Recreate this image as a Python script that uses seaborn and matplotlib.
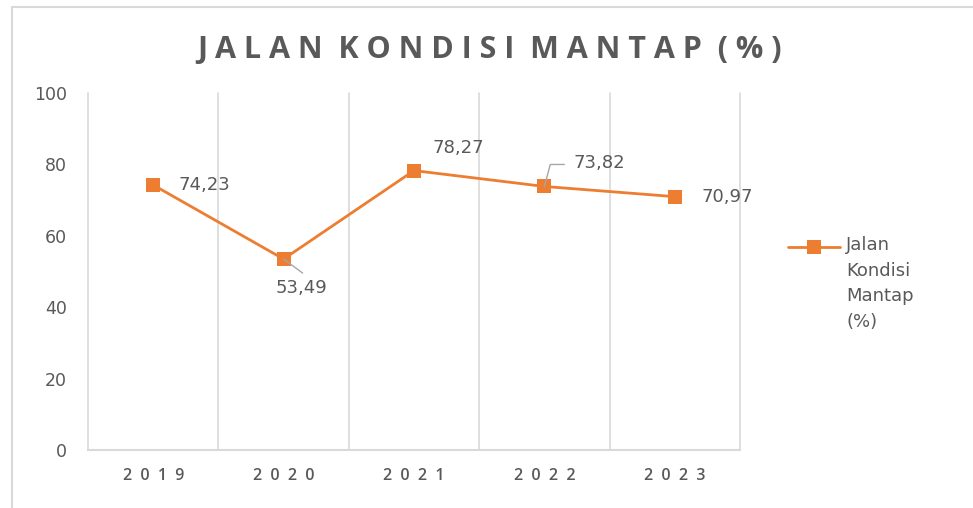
import matplotlib
matplotlib.use("Agg")
import matplotlib.pyplot as plt
from matplotlib.lines import Line2D
from matplotlib.patches import Rectangle
import seaborn as sns
import pandas as pd

years = ["2019", "2020", "2021", "2022", "2023"]
mantap = [74.23, 53.49, 78.27, 73.82, 70.97]
y_ticks = [0, 20, 40, 60, 80, 100]
title = "JALAN KONDISI MANTAP (%)"
legend_label = "Jalan\nKondisi\nMantap\n(%)"

ORANGE = "#ED7D31"
GREY_TXT = "#595959"
GRID = "#D9D9D9"

sns.set_style("white")
plt.rcParams["font.family"] = ["DejaVu Sans"]

W, H = 973, 508
fig = plt.figure(figsize=(W / 100, H / 100), dpi=100)
ax = fig.add_axes([88 / W, 1 - 450 / H, (740 - 88) / W, (450 - 93) / H])

df = pd.DataFrame({"pos": range(len(years)), "value": mantap})
sns.lineplot(data=df, x="pos", y="value", ax=ax, color=ORANGE, linewidth=2.0,
             marker="s", markersize=9.5, markeredgewidth=0, legend=False)

ax.set_xlim(-0.5, len(years) - 0.5)
ax.set_ylim(0, 100)
ax.set_yticks(y_ticks)
ax.set_yticklabels([str(t) for t in y_ticks], color=GREY_TXT, fontsize=12.5)
ax.set_xticks(range(len(years)))
ax.set_xticklabels(["  ".join(y) for y in years], color=GREY_TXT, fontsize=11.5,
                   fontweight="semibold", family=["Open Sans", "DejaVu Sans"])
ax.tick_params(axis="y", length=0, pad=15)
ax.tick_params(axis="x", length=0, pad=13)
ax.set_xlabel("")
ax.set_ylabel("")

# vertical separators between categories
for b in [i - 0.5 for i in range(len(years) + 1)]:
    ax.axvline(b, color=GRID, linewidth=1.2, zorder=0, clip_on=False)
for s in ["top", "right", "left"]:
    ax.spines[s].set_visible(False)
ax.spines["bottom"].set_color(GRID)
ax.spines["bottom"].set_linewidth(1.5)

# value labels (offsets in points)
px = 0.72
offsets = [(25, 0, "left"), (18, -29, "center"), (18, 23, "left"),
           (29, 23, "left"), (27, 0, "left")]
for i, (v, (dx, dy, ha)) in enumerate(zip(mantap, offsets)):
    ax.annotate(f"{v:.2f}".replace(".", ","), xy=(i, v),
                xytext=(dx * px, dy * px), textcoords="offset points",
                ha=ha, va="center", fontsize=13, color=GREY_TXT)

# leader lines
ax.annotate("", xy=(1, mantap[1]), xytext=(19 * px, -14 * px),
            textcoords="offset points",
            arrowprops=dict(arrowstyle="-", color="#A6A6A6", lw=1.0,
                            shrinkA=0, shrinkB=0))
ax.annotate("", xy=(3, mantap[3]), xytext=(20 * px, 22 * px),
            textcoords="offset points",
            arrowprops=dict(arrowstyle="-", color="#A6A6A6", lw=1.0,
                            shrinkA=0, shrinkB=0,
                            connectionstyle="angle,angleA=0,angleB=75,rad=0"))

# title, letter-spaced
spaced_title = "  ".join(" ".join(word) for word in title.split())
fig.text(490 / W, 1 - 50 / H, spaced_title, ha="center", va="center",
         fontsize=22, fontweight="bold", color=GREY_TXT,
         family=["Open Sans", "DejaVu Sans"])

# legend
ly = 1 - 247 / H
fig.add_artist(Line2D([788 / W, 840 / W], [ly, ly], color=ORANGE, linewidth=2.0,
                      transform=fig.transFigure))
fig.add_artist(Line2D([814 / W], [ly], color=ORANGE, marker="s", markersize=9.5,
                      markeredgewidth=0, linestyle="none",
                      transform=fig.transFigure))
fig.text(846 / W, 1 - 236 / H, legend_label, ha="left", va="top",
         fontsize=13, color=GREY_TXT, linespacing=1.55)

# chart frame
fig.add_artist(Rectangle((12 / W, -0.1), 1.2, 1 - 7 / H + 0.1, fill=False,
                         edgecolor=GRID, linewidth=1.5, transform=fig.transFigure))

fig.savefig("out.png", dpi=100, facecolor="white")
